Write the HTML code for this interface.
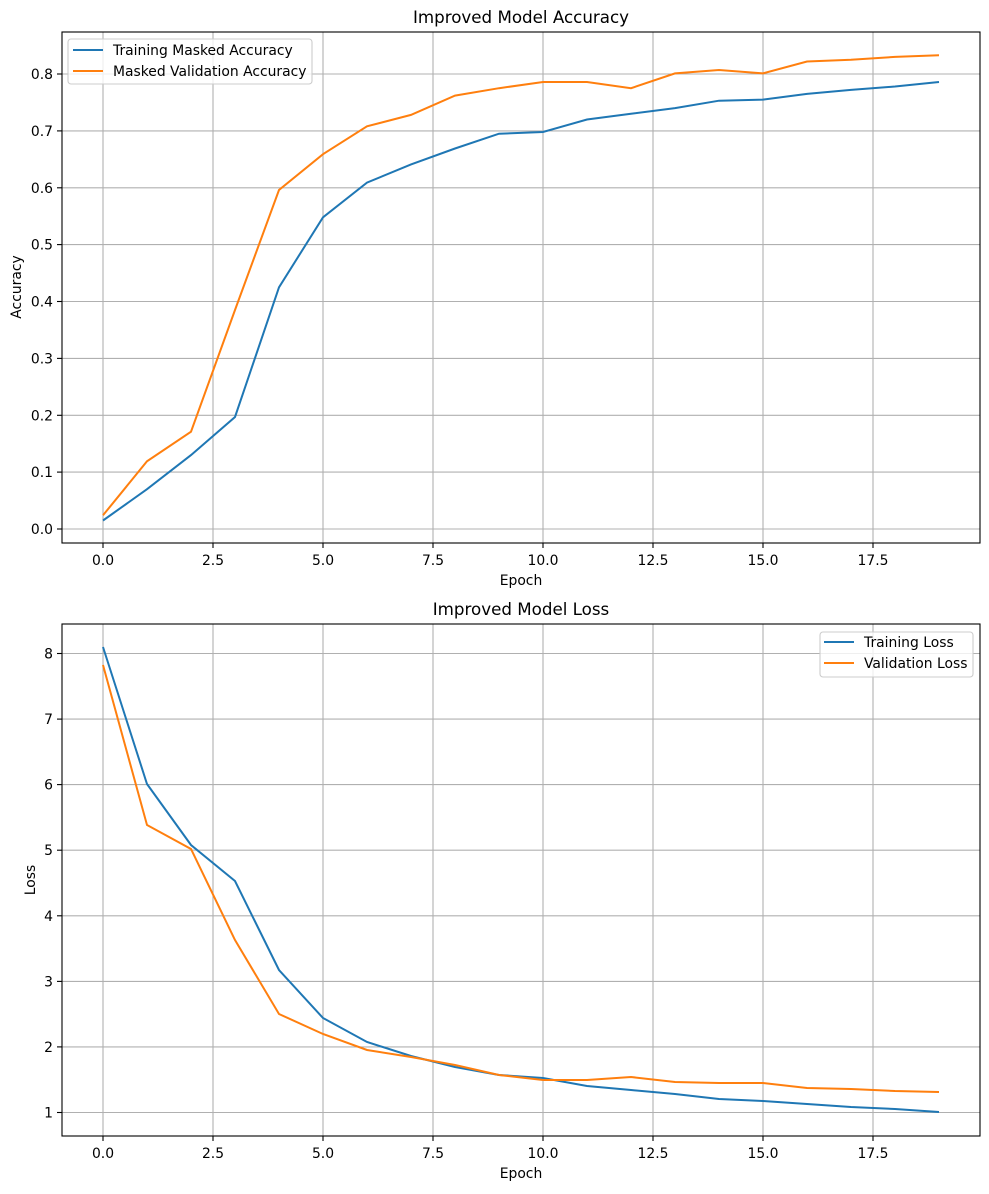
<!DOCTYPE html>
<html><head><meta charset="utf-8"><style>
body{margin:0;background:#fff}
text{font-family:"DejaVu Sans","Liberation Sans",sans-serif;fill:#000}
</style></head><body>
<svg width="989" height="1189" viewBox="0 0 989 1189" xmlns="http://www.w3.org/2000/svg">
<rect width="989" height="1189" fill="#fff"/>
<!-- Accuracy plot -->
<g stroke="#b0b0b0" stroke-width="1.1">
<line x1="103" y1="32" x2="103" y2="543"/><line x1="213" y1="32" x2="213" y2="543"/><line x1="323" y1="32" x2="323" y2="543"/><line x1="433" y1="32" x2="433" y2="543"/><line x1="543" y1="32" x2="543" y2="543"/><line x1="653" y1="32" x2="653" y2="543"/><line x1="763" y1="32" x2="763" y2="543"/><line x1="873" y1="32" x2="873" y2="543"/>
<line x1="62" y1="529" x2="980" y2="529"/><line x1="62" y1="472.1" x2="980" y2="472.1"/><line x1="62" y1="415.3" x2="980" y2="415.3"/><line x1="62" y1="358.4" x2="980" y2="358.4"/><line x1="62" y1="301.5" x2="980" y2="301.5"/><line x1="62" y1="244.6" x2="980" y2="244.6"/><line x1="62" y1="187.8" x2="980" y2="187.8"/><line x1="62" y1="130.9" x2="980" y2="130.9"/><line x1="62" y1="74" x2="980" y2="74"/>
</g>
<polyline fill="none" stroke="#1f77b4" stroke-width="2" points="103,520.5 147,489.2 191,455.1 235,417 279,287.3 323,217.3 367,182.6 411,164.4 455,148.5 499,133.7 543,132 587,119.5 631,113.8 675,108.1 719,100.7 763,99.6 807,93.9 851,89.9 895,86.5 939,82"/>
<polyline fill="none" stroke="#ff7f0e" stroke-width="2" points="103,515.3 147,461.3 191,431.7 235,310 279,190 323,154.2 367,126.3 411,114.9 455,95.6 499,88.2 543,82 587,82 631,88.2 675,73.4 719,70 763,73.4 807,61.5 851,59.8 895,56.9 939,55.2"/>
<rect x="62" y="32" width="918" height="511" fill="none" stroke="#000" stroke-width="1.1"/>
<g stroke="#000" stroke-width="1.1">
<line x1="103" y1="543" x2="103" y2="548"/><line x1="213" y1="543" x2="213" y2="548"/><line x1="323" y1="543" x2="323" y2="548"/><line x1="433" y1="543" x2="433" y2="548"/><line x1="543" y1="543" x2="543" y2="548"/><line x1="653" y1="543" x2="653" y2="548"/><line x1="763" y1="543" x2="763" y2="548"/><line x1="873" y1="543" x2="873" y2="548"/>
<line x1="57" y1="529" x2="62" y2="529"/><line x1="57" y1="472.1" x2="62" y2="472.1"/><line x1="57" y1="415.3" x2="62" y2="415.3"/><line x1="57" y1="358.4" x2="62" y2="358.4"/><line x1="57" y1="301.5" x2="62" y2="301.5"/><line x1="57" y1="244.6" x2="62" y2="244.6"/><line x1="57" y1="187.8" x2="62" y2="187.8"/><line x1="57" y1="130.9" x2="62" y2="130.9"/><line x1="57" y1="74" x2="62" y2="74"/>
</g>
<g font-size="13.9" text-anchor="middle">
<text x="103" y="565">0.0</text><text x="213" y="565">2.5</text><text x="323" y="565">5.0</text><text x="433" y="565">7.5</text><text x="543" y="565">10.0</text><text x="653" y="565">12.5</text><text x="763" y="565">15.0</text><text x="873" y="565">17.5</text>
</g>
<g font-size="13.9" text-anchor="end">
<text x="53" y="534">0.0</text><text x="53" y="477.1">0.1</text><text x="53" y="420.3">0.2</text><text x="53" y="363.4">0.3</text><text x="53" y="306.5">0.4</text><text x="53" y="249.6">0.5</text><text x="53" y="192.8">0.6</text><text x="53" y="135.9">0.7</text><text x="53" y="79">0.8</text>
</g>
<text x="521" y="585" font-size="13.9" text-anchor="middle">Epoch</text>
<text x="21" y="287" font-size="13.9" text-anchor="middle" transform="rotate(-90 21 287)">Accuracy</text>
<text x="521" y="23" font-size="16.7" text-anchor="middle">Improved Model Accuracy</text>
<rect x="68" y="39" width="244" height="45" rx="3" fill="#fff" fill-opacity="0.8" stroke="#ccc" stroke-width="1.1"/>
<line x1="73" y1="50" x2="103" y2="50" stroke="#1f77b4" stroke-width="2"/>
<line x1="73" y1="71" x2="103" y2="71" stroke="#ff7f0e" stroke-width="2"/>
<text x="113" y="55" font-size="13.9">Training Masked Accuracy</text>
<text x="113" y="76" font-size="13.9">Masked Validation Accuracy</text>

<!-- Loss plot -->
<g stroke="#b0b0b0" stroke-width="1.1">
<line x1="103" y1="624" x2="103" y2="1136"/><line x1="213" y1="624" x2="213" y2="1136"/><line x1="323" y1="624" x2="323" y2="1136"/><line x1="433" y1="624" x2="433" y2="1136"/><line x1="543" y1="624" x2="543" y2="1136"/><line x1="653" y1="624" x2="653" y2="1136"/><line x1="763" y1="624" x2="763" y2="1136"/><line x1="873" y1="624" x2="873" y2="1136"/>
<line x1="62" y1="1112.5" x2="980" y2="1112.5"/><line x1="62" y1="1046.9" x2="980" y2="1046.9"/><line x1="62" y1="981.4" x2="980" y2="981.4"/><line x1="62" y1="915.8" x2="980" y2="915.8"/><line x1="62" y1="850.2" x2="980" y2="850.2"/><line x1="62" y1="784.6" x2="980" y2="784.6"/><line x1="62" y1="719.1" x2="980" y2="719.1"/><line x1="62" y1="653.5" x2="980" y2="653.5"/>
</g>
<polyline fill="none" stroke="#1f77b4" stroke-width="2" points="103,647 147,784 191,845 235,881 279,970 323,1018 367,1042 411,1056 455,1067 499,1075 543,1078 587,1086 631,1090 675,1094 719,1099 763,1101 807,1104 851,1107 895,1109 939,1112"/>
<polyline fill="none" stroke="#ff7f0e" stroke-width="2" points="103,665 147,825 191,849 235,940 279,1014 323,1034 367,1050 411,1057 455,1065 499,1075 543,1080 587,1080 631,1077 675,1082 719,1083 763,1083 807,1088 851,1089 895,1091 939,1092"/>
<rect x="62" y="624" width="918" height="512" fill="none" stroke="#000" stroke-width="1.1"/>
<g stroke="#000" stroke-width="1.1">
<line x1="103" y1="1136" x2="103" y2="1141"/><line x1="213" y1="1136" x2="213" y2="1141"/><line x1="323" y1="1136" x2="323" y2="1141"/><line x1="433" y1="1136" x2="433" y2="1141"/><line x1="543" y1="1136" x2="543" y2="1141"/><line x1="653" y1="1136" x2="653" y2="1141"/><line x1="763" y1="1136" x2="763" y2="1141"/><line x1="873" y1="1136" x2="873" y2="1141"/>
<line x1="57" y1="1112.5" x2="62" y2="1112.5"/><line x1="57" y1="1046.9" x2="62" y2="1046.9"/><line x1="57" y1="981.4" x2="62" y2="981.4"/><line x1="57" y1="915.8" x2="62" y2="915.8"/><line x1="57" y1="850.2" x2="62" y2="850.2"/><line x1="57" y1="784.6" x2="62" y2="784.6"/><line x1="57" y1="719.1" x2="62" y2="719.1"/><line x1="57" y1="653.5" x2="62" y2="653.5"/>
</g>
<g font-size="13.9" text-anchor="middle">
<text x="103" y="1158">0.0</text><text x="213" y="1158">2.5</text><text x="323" y="1158">5.0</text><text x="433" y="1158">7.5</text><text x="543" y="1158">10.0</text><text x="653" y="1158">12.5</text><text x="763" y="1158">15.0</text><text x="873" y="1158">17.5</text>
</g>
<g font-size="13.9" text-anchor="end">
<text x="53" y="1117.5">1</text><text x="53" y="1051.9">2</text><text x="53" y="986.4">3</text><text x="53" y="920.8">4</text><text x="53" y="855.2">5</text><text x="53" y="789.6">6</text><text x="53" y="724.1">7</text><text x="53" y="658.5">8</text>
</g>
<text x="521" y="1178" font-size="13.9" text-anchor="middle">Epoch</text>
<text x="35" y="880" font-size="13.9" text-anchor="middle" transform="rotate(-90 35 880)">Loss</text>
<text x="521" y="615" font-size="16.7" text-anchor="middle">Improved Model Loss</text>
<rect x="820" y="632" width="153" height="45" rx="3" fill="#fff" fill-opacity="0.8" stroke="#ccc" stroke-width="1.1"/>
<line x1="824" y1="642" x2="854" y2="642" stroke="#1f77b4" stroke-width="2"/>
<line x1="824" y1="663" x2="854" y2="663" stroke="#ff7f0e" stroke-width="2"/>
<text x="864" y="647" font-size="13.9">Training Loss</text>
<text x="864" y="668" font-size="13.9">Validation Loss</text>
</svg>
</body></html>
